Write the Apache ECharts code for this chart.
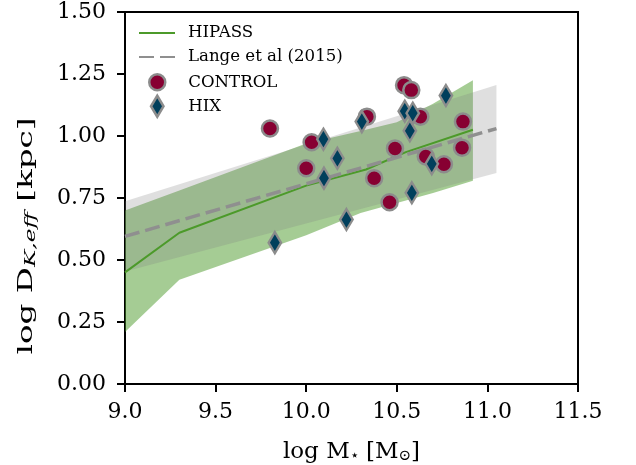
<!DOCTYPE html>
<html>
<head>
<meta charset="utf-8">
<script src="https://cdn.jsdelivr.net/npm/echarts@6/dist/echarts.min.js"></script>
<style>
  html, body { margin: 0; padding: 0; background: #fff; }
  #chart { width: 636px; height: 465px; }
</style>
</head>
<body>
<div id="chart"></div>
<script>
// Axis ticks
const xTicks = [9.0, 9.5, 10.0, 10.5, 11.0, 11.5];
const yTicks = [0.0, 0.25, 0.5, 0.75, 1.0, 1.25, 1.5];

// HIPASS running median and its scatter envelope
const hipassMedX = [9.0, 9.3, 10.0, 10.33, 10.55, 10.92];
const hipassMedY = [0.45, 0.61, 0.80, 0.865, 0.935, 1.025];
const hipassBandX = [9.0, 9.3, 10.0, 10.3, 10.5, 10.7, 10.92];
const hipassUpper = [0.70, 0.78, 0.97, 1.02, 1.055, 1.13, 1.225];
const hipassLower = [0.21, 0.42, 0.60, 0.69, 0.73, 0.77, 0.82];

// Lange et al (2015) size-mass relation and its spread
const langeX = [9.0, 11.05];
const langeMid = [0.595, 1.03];
const langeUpper = [0.737, 1.206];
const langeLower = [0.454, 0.851];

// CONTROL galaxies: stellar mass and K-band diameter
const controlMass = [9.80, 10.03, 10.00, 10.335, 10.54, 10.58, 10.63, 10.49, 10.375, 10.46, 10.865, 10.86, 10.66, 10.76];
const controlSize = [1.03, 0.975, 0.87, 1.078, 1.205, 1.185, 1.078, 0.95, 0.83, 0.733, 1.058, 0.953, 0.917, 0.886];

// HIX galaxies: stellar mass and K-band diameter
const hixMass = [10.095, 10.172, 10.098, 10.307, 10.544, 10.588, 10.572, 10.771, 10.693, 10.583, 9.827, 10.222];
const hixSize = [0.987, 0.91, 0.83, 1.058, 1.10, 1.092, 1.021, 1.163, 0.888, 0.771, 0.57, 0.663];

const FONT = 'DejaVu Serif';
const GREEN = '#4c9a2a';
const DASH_GREY = '#8f8f8f';
const EDGE = '#8c8c8c';
const CONTROL_FILL = '#870032';
const HIX_FILL = '#003f5c';

const zip = (a, b) => a.map((v, i) => [v, b[i]]);

// Filled envelope between lower and upper curves, drawn once as a polygon
function band(name, xs, lo, hi, fill, z) {
  return {
    type: 'custom',
    name: name,
    z: z,
    silent: true,
    data: xs.map((x, i) => [x, lo[i], hi[i]]),
    encode: { x: 0, y: [1, 2] },
    renderItem: function (params, api) {
      if (params.dataIndex !== 0) return;
      const top = xs.map((x, i) => api.coord([x, hi[i]]));
      const bottom = xs.map((x, i) => api.coord([x, lo[i]])).reverse();
      return {
        type: 'polygon',
        shape: { points: top.concat(bottom) },
        style: { fill: fill }
      };
    }
  };
}

const legendText = (lh) => ({
  fontFamily: FONT, fontSize: 16.6, color: '#000', lineHeight: lh, padding: [0, 0, 0, 8]
});
// Line entries show only the line, no marker
const hiddenMarker = { color: 'rgba(0,0,0,0)', borderWidth: 0, opacity: 0 };

const chart = echarts.init(document.getElementById('chart'), null, { renderer: 'canvas' });

chart.setOption({
  animation: false,
  backgroundColor: '#fff',
  grid: {
    left: 125, right: 58, top: 12, bottom: 81,
    show: true, borderColor: '#000', borderWidth: 2,
    containLabel: false, outerBoundsMode: 'none'
  },
  xAxis: {
    type: 'value',
    min: xTicks[0], max: xTicks[xTicks.length - 1], interval: 0.5,
    splitLine: { show: false },
    axisLine: { show: true, onZero: false, lineStyle: { color: '#000', width: 2 } },
    axisTick: { show: true, inside: false, length: 8, lineStyle: { color: '#000', width: 2 } },
    axisLabel: {
      fontFamily: FONT, fontSize: 22, color: '#000', margin: 17,
      showMinLabel: true, showMaxLabel: true,
      formatter: (v) => v.toFixed(1)
    },
    name: 'log M{s|⋆} [M{s|⊙}]',
    nameLocation: 'middle',
    nameGap: 57,
    nameTextStyle: {
      fontFamily: FONT, fontSize: 23, color: '#000',
      rich: { s: { fontFamily: FONT, fontSize: 15, color: '#000', padding: [8, 0, 0, 0] } }
    }
  },
  yAxis: {
    type: 'value',
    min: yTicks[0], max: yTicks[yTicks.length - 1], interval: 0.25,
    splitLine: { show: false },
    axisLine: { show: true, onZero: false, lineStyle: { color: '#000', width: 2 } },
    axisTick: { show: true, inside: false, length: 8, lineStyle: { color: '#000', width: 2 } },
    axisLabel: {
      fontFamily: FONT, fontSize: 22, color: '#000', margin: 19,
      showMinLabel: true, showMaxLabel: true,
      formatter: (v) => v.toFixed(2)
    }
  },
  // Vertical axis title, stretched along its reading direction
  graphic: [{
    type: 'text',
    x: 27, y: 236,
    rotation: Math.PI / 2,
    scaleX: 1.55,
    silent: true,
    style: {
      text: 'log D{s|K,eff} [kpc]',
      fontFamily: FONT, fontSize: 21, fill: '#000',
      align: 'center', verticalAlign: 'middle',
      rich: { s: { fontFamily: FONT, fontSize: 15, fontStyle: 'italic', fill: '#000', padding: [8, 0, 0, 0] } }
    }
  }],
  legend: [
    {
      data: [{ name: 'HIPASS', itemStyle: hiddenMarker }],
      left: 138, top: 24, padding: 0,
      itemWidth: 36, itemHeight: 18, textStyle: legendText(18)
    },
    {
      data: [{ name: 'Lange et al (2015)', itemStyle: hiddenMarker }],
      left: 138, top: 48, padding: 0,
      itemWidth: 36, itemHeight: 18, textStyle: legendText(18)
    },
    {
      data: [{
        name: 'CONTROL', icon: 'circle',
        itemStyle: { color: CONTROL_FILL, borderColor: EDGE, borderWidth: 2.5 }
      }],
      left: 148, top: 73, padding: 0,
      itemWidth: 36, itemHeight: 16, textStyle: legendText(16)
    },
    {
      data: [{
        name: 'HIX', icon: 'path://M6.25,0L12.5,10.5L6.25,21L0,10.5Z',
        itemStyle: { color: HIX_FILL, borderColor: EDGE, borderWidth: 2.5 }
      }],
      left: 149.75, top: 94.5, padding: 0,
      itemWidth: 36, itemHeight: 21, textStyle: legendText(21)
    }
  ],
  series: [
    band('HIPASS range', hipassBandX, hipassLower, hipassUpper, 'rgba(76,154,42,0.5)', 1),
    band('Lange range', langeX, langeLower, langeUpper, 'rgba(128,128,128,0.25)', 2),
    {
      name: 'HIPASS',
      type: 'line',
      z: 3,
      symbol: 'none',
      data: zip(hipassMedX, hipassMedY),
      lineStyle: { color: GREEN, width: 2 },
      itemStyle: { color: GREEN }
    },
    {
      name: 'Lange et al (2015)',
      type: 'line',
      z: 4,
      symbol: 'none',
      data: zip(langeX, langeMid),
      lineStyle: { color: DASH_GREY, width: 3.5, type: [15, 6] },
      itemStyle: { color: DASH_GREY }
    },
    {
      name: 'CONTROL',
      type: 'scatter',
      z: 5,
      symbol: 'circle',
      symbolSize: 16,
      data: zip(controlMass, controlSize),
      itemStyle: { color: CONTROL_FILL, borderColor: EDGE, borderWidth: 2.5, opacity: 1 }
    },
    {
      name: 'HIX',
      type: 'scatter',
      z: 6,
      symbol: 'diamond',
      symbolSize: [12.5, 21],
      data: zip(hixMass, hixSize),
      itemStyle: { color: HIX_FILL, borderColor: EDGE, borderWidth: 2.5, opacity: 1 }
    }
  ]
});
</script>
</body>
</html>
